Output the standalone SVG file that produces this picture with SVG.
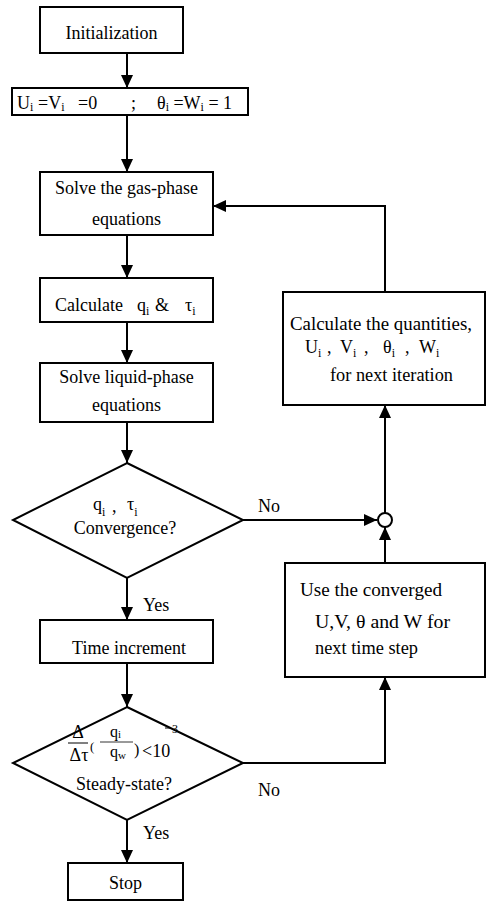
<svg xmlns="http://www.w3.org/2000/svg" width="486" height="909" viewBox="0 0 486 909">
<style>
text{font-family:"Liberation Serif","Times New Roman",serif;font-size:18px;fill:#000}
.c{text-anchor:middle}
.sub{font-size:12px}
.box{fill:#fff;stroke:#000;stroke-width:2}
.ln{fill:none;stroke:#000;stroke-width:2}
</style>
<defs>
<marker id="ah" markerUnits="userSpaceOnUse" markerWidth="14" markerHeight="14" viewBox="0 0 14 14" refX="13" refY="7" orient="auto">
<path d="M0,1 L13,7 L0,13 Z" fill="#000"/>
</marker>
</defs>
<g id="connectors">
<path class="ln" d="M127,53 V88" marker-end="url(#ah)"/>
<path class="ln" d="M127,115 V172" marker-end="url(#ah)"/>
<path class="ln" d="M127,235 V278" marker-end="url(#ah)"/>
<path class="ln" d="M127,322 V363" marker-end="url(#ah)"/>
<path class="ln" d="M127,422 V463" marker-end="url(#ah)"/>
<path class="ln" d="M127,578 V620" marker-end="url(#ah)"/>
<path class="ln" d="M127,663 V707" marker-end="url(#ah)"/>
<path class="ln" d="M127,820 V863" marker-end="url(#ah)"/>
<path class="ln" d="M243,520 H377" marker-end="url(#ah)"/>
<path class="ln" d="M243,763 H385 V677" marker-end="url(#ah)"/>
<path class="ln" d="M385,563 V527" marker-end="url(#ah)"/>
<path class="ln" d="M385,513 V405" marker-end="url(#ah)"/>
<path class="ln" d="M385,292 V206 H213" marker-end="url(#ah)"/>
<circle cx="385" cy="520" r="7" fill="#fff" stroke="#000" stroke-width="2"/>
<text x="258" y="512">No</text>
<text x="258" y="796">No</text>
<text x="143" y="611">Yes</text>
<text x="143" y="839">Yes</text>
</g>
<g id="init">
<rect class="box" x="40" y="7" width="143" height="46"/>
<text class="c" x="111.5" y="39">Initialization</text>
</g>
<g id="setvals">
<rect class="box" x="12" y="88" width="236" height="27"/>
<text x="17" y="109">U<tspan class="sub" dy="2">i</tspan></text>
<text x="38" y="109">=V<tspan class="sub" dy="2">i</tspan></text>
<text x="78" y="109">=0</text>
<text x="131" y="109">;</text>
<text x="157" y="109" xml:space="preserve">θ<tspan class="sub" dy="2">i</tspan><tspan dy="-2"> =W</tspan><tspan class="sub" dy="2">i</tspan><tspan dy="-2"> = 1</tspan></text>
</g>
<g id="gas">
<rect class="box" x="40" y="172" width="173" height="63"/>
<text class="c" x="126.5" y="194">Solve the gas-phase</text>
<text class="c" x="126.5" y="225">equations</text>
</g>
<g id="calcq">
<rect class="box" x="40" y="278" width="173" height="44"/>
<text x="55" y="311">Calculate</text>
<text x="137" y="311">q<tspan class="sub" dy="4">i</tspan></text>
<text x="155" y="311">&amp;</text>
<text x="185" y="311">τ<tspan class="sub" dy="4">i</tspan></text>
</g>
<g id="liquid">
<rect class="box" x="40" y="363" width="173" height="59"/>
<text class="c" x="126.5" y="383">Solve liquid-phase</text>
<text class="c" x="126.5" y="411">equations</text>
</g>
<g id="conv">
<polygon class="box" points="127,463 243,520 127,578 13,520"/>
<text x="93" y="510">q<tspan class="sub" dy="6">i</tspan></text>
<text x="112" y="512">,</text>
<text x="127" y="510">τ<tspan class="sub" dy="6">i</tspan></text>
<text class="c" x="125" y="534">Convergence?</text>
</g>
<g id="time">
<rect class="box" x="40" y="620" width="173" height="43"/>
<text class="c" x="129" y="654">Time increment</text>
</g>
<g id="steady">
<polygon class="box" points="127,707 243,763 127,820 13,763"/>
<text class="c" x="78" y="738">Δ</text>
<line x1="68" y1="743" x2="88" y2="743" stroke="#000" stroke-width="1"/>
<text class="c" x="79" y="761">Δτ</text>
<text x="90" y="751" style="font-size:13px">(</text>
<text x="110" y="737" style="font-size:16px">q<tspan class="sub" style="font-size:11px" dy="1">i</tspan></text>
<line x1="100" y1="742" x2="133" y2="742" stroke="#000" stroke-width="0.8"/>
<text x="110" y="757" style="font-size:16px">q<tspan class="sub" style="font-size:11px" dy="2">w</tspan></text>
<text x="134" y="755" style="font-size:16px">)</text>
<text x="142" y="757">&lt;10</text>
<line x1="165" y1="728" x2="170" y2="728" stroke="#000" stroke-width="1"/>
<text x="172" y="733" style="font-size:12px">3</text>
<text class="c" x="124" y="790">Steady-state?</text>
</g>
<g id="stop">
<rect class="box" x="68" y="863" width="115" height="37"/>
<text class="c" x="125.5" y="889">Stop</text>
</g>
<g id="calcqty">
<rect class="box" x="283" y="292" width="202" height="113"/>
<text x="290" y="330" textLength="182" lengthAdjust="spacingAndGlyphs">Calculate the quantities,</text>
<text x="305" y="353">U<tspan class="sub" dy="4">i</tspan></text>
<text x="327" y="353">,</text>
<text x="340" y="353">V<tspan class="sub" dy="4">i</tspan></text>
<text x="364" y="353">,</text>
<text x="383" y="353">θ<tspan class="sub" dy="4">i</tspan></text>
<text x="405" y="353">,</text>
<text x="419" y="353">W<tspan class="sub" dy="4">i</tspan></text>
<text x="330" y="381" textLength="123" lengthAdjust="spacingAndGlyphs">for next iteration</text>
</g>
<g id="usecv">
<rect class="box" x="285" y="563" width="200" height="114"/>
<text x="300" y="596" textLength="142" lengthAdjust="spacingAndGlyphs">Use the converged</text>
<text x="315" y="628" textLength="135" lengthAdjust="spacingAndGlyphs">U,V, θ and W for</text>
<text x="315" y="654" textLength="103" lengthAdjust="spacingAndGlyphs">next time step</text>
</g>
</svg>
